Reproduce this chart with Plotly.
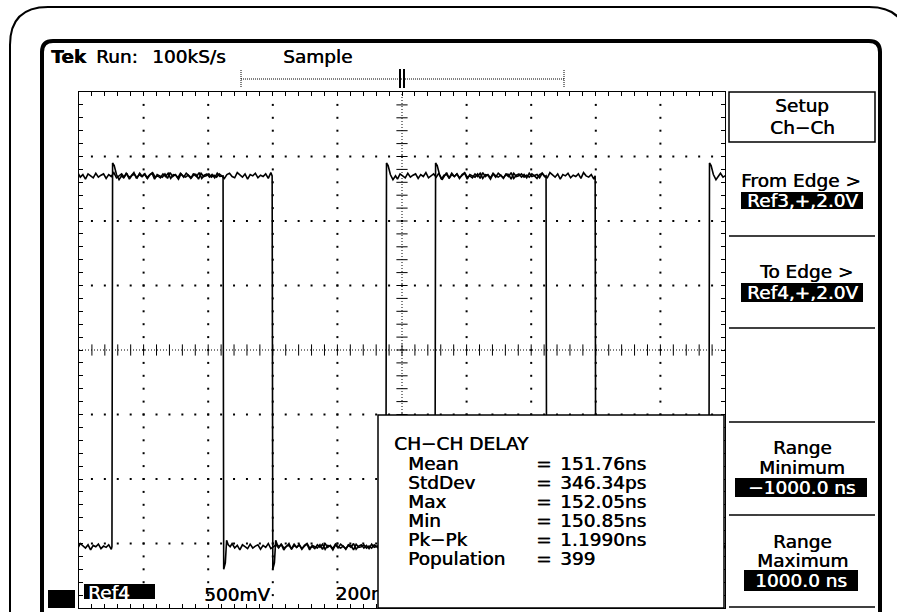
import numpy as np
import plotly.graph_objects as go

W, H = 897, 612
FONT = "DejaVu Sans"
FS = 18.5

x_range_ns = [-1000, 1000]          # 200 ns/div, 10 div
y_range_div = [-4, 4]               # 8 div
high_div = 2.70
low_div = -3.05

ref3_start = "high"
ref3_events_ns = [(-554, "fall"), (-50, "rise"), (446, "fall"), (950, "rise")]
ref4_start = "low"
ref4_events_ns = [(-898, "rise"), (-402, "fall"), (102, "rise"), (598, "fall")]

# plateau noise (div)
ref3_noise = [0.02, -0.03, 0.04, -0.01, 0.03, -0.04, 0.01, 0.05, -0.02, 0.02, -0.05, 0.03,
              0.0, -0.03, 0.04, -0.02, 0.01, 0.03, -0.04, 0.02, -0.01, 0.05, -0.03, 0.0,
              0.03, -0.02, 0.04, -0.05, 0.01, 0.02, -0.03, 0.04, -0.01, 0.03, -0.04, 0.02,
              0.05, -0.02, 0.0, -0.03, 0.03, -0.01, 0.04, -0.04, 0.02, 0.01, -0.05, 0.03,
              -0.02, 0.04, 0.0, -0.03, 0.02, -0.01, 0.05, -0.04, 0.01, 0.03, -0.02, 0.02,
              -0.03, 0.04, -0.01, 0.0]
ref4_noise = [-0.02, 0.03, 0.0, -0.04, 0.02, 0.04, -0.01, -0.03, 0.05, 0.01, -0.02, 0.03,
              -0.05, 0.02, 0.0, 0.04, -0.03, 0.01, -0.01, 0.03, -0.04, 0.05, 0.0, -0.02,
              0.02, -0.05, 0.03, 0.01, -0.03, 0.04, -0.02, 0.0, 0.05, -0.04, 0.02, -0.01,
              0.03, -0.03, 0.01, 0.04, -0.05, 0.02, 0.0, -0.02, 0.03, -0.04, 0.05, -0.01,
              0.02, -0.03, 0.04, 0.0, -0.02, 0.01, -0.04, 0.03, 0.02, -0.05, 0.04, -0.01,
              0.0, 0.03, -0.02, 0.01]
# edge shapes (time offset ns, level div)
rise_profile = [(0, -3.05), (2, 2.90), (7, 2.86), (14, 2.72), (22, 2.64), (30, 2.70)]
fall_profile = [(0, 2.70), (2, -3.40), (7, -3.30), (11, -2.95), (16, -3.02), (22, -3.05)]

meas_title = "CH\u2212CH DELAY"
meas_labels = ["Mean", "StdDev", "Max", "Min", "Pk\u2212Pk", "Population"]
meas_values = ["151.76ns", "346.34ps", "152.05ns", "150.85ns", "1.1990ns", "399"]

# ---------------- helpers ----------------
def X(px):
    return px / W

def Y(py):
    return 1 - py / H

def build(start, events, noise):
    ts, vs = [], []
    t = x_range_ns[0] - 60
    state = start
    k = 0
    for (te, kind) in events + [(x_range_ns[1] + 60, "end")]:
        level = high_div if state == "high" else low_div
        for tt in np.arange(t, te, 8.0):
            ts.append(float(tt))
            vs.append(level + noise[k % len(noise)])
            k += 1
        if kind == "end":
            break
        prof = rise_profile if kind == "rise" else fall_profile
        for dt, v in prof:
            ts.append(te + dt)
            vs.append(v)
        t = te + prof[-1][0] + 6
        state = "high" if kind == "rise" else "low"
        k += 7
    return ts, vs

fig = go.Figure()

# graticule dots
gx, gy = [], []
for xd in range(-800, 1000, 200):
    if xd == 0:
        continue
    for k in range(1, 40):
        gx.append(xd); gy.append(-4 + 0.2 * k)
for yd in [-3, -2, -1, 1, 2, 3]:
    for k in range(1, 50):
        gx.append(-1000 + 40 * k); gy.append(yd)
fig.add_trace(go.Scatter(x=gx, y=gy, mode="markers", hoverinfo="skip",
                         marker=dict(symbol="square", size=2, color="black", line=dict(width=0))))
# center lines
fig.add_trace(go.Scatter(x=[0, 0], y=y_range_div, mode="lines", hoverinfo="skip",
                         line=dict(color="black", width=1, dash="1px,2px")))
fig.add_trace(go.Scatter(x=x_range_ns, y=[0, 0], mode="lines", hoverinfo="skip",
                         line=dict(color="black", width=1, dash="1px,2px")))
fig.add_trace(go.Scatter(x=[0] * 39, y=[-4 + 0.2 * k for k in range(1, 40)], mode="markers",
                         hoverinfo="skip",
                         marker=dict(symbol="line-ew", size=8, line=dict(width=1, color="black"))))
fig.add_trace(go.Scatter(x=[-1000 + 40 * k for k in range(1, 50)], y=[0] * 49, mode="markers",
                         hoverinfo="skip",
                         marker=dict(symbol="line-ns", size=8, line=dict(width=1, color="black"))))

# waveforms
t3, v3 = build(ref3_start, ref3_events_ns, ref3_noise)
t4, v4 = build(ref4_start, ref4_events_ns, ref4_noise)
fig.add_trace(go.Scatter(x=t3, y=v3, mode="lines", name="Ref3",
                         line=dict(color="black", width=1.6)))
fig.add_trace(go.Scatter(x=t4, y=v4, mode="lines", name="Ref4",
                         line=dict(color="black", width=1.6)))
# scale label partially hidden by readout box
fig.add_trace(go.Scatter(x=[-206], y=[-3.8], mode="text", text=["200ns"],
                         textposition="middle right", hoverinfo="skip",
                         textfont=dict(family=FONT, size=FS, color="black",
                                       shadow="0.5px 0 0 black")))

shapes = []
anns = []

def line(x0, y0, x1, y1, w=1.5, dash="solid", color="black"):
    shapes.append(dict(type="line", xref="paper", yref="paper", x0=X(x0), y0=Y(y0),
                       x1=X(x1), y1=Y(y1), line=dict(color=color, width=w, dash=dash),
                       layer="above"))

def rect(x0, y0, x1, y1, fill=None, w=1.5, color="black"):
    shapes.append(dict(type="rect", xref="paper", yref="paper", x0=X(x0), y0=Y(y0),
                       x1=X(x1), y1=Y(y1), fillcolor=fill if fill else "rgba(0,0,0,0)",
                       line=dict(color=color, width=w), layer="above"))

def text(s, x, y, anchor="left", color="black", size=FS):
    anns.append(dict(text=s, xref="paper", yref="paper", x=X(x), y=Y(y), xanchor=anchor,
                     yanchor="middle", showarrow=False,
                     font=dict(family=FONT, size=size, color=color,
                               shadow=f"0.5px 0 0 {color}")))

def rpath(x0, y0, x1, y1, r, w):
    p = (f"M{X(x0)},{Y(y1)} L{X(x0)},{Y(y0 + r)} Q{X(x0)},{Y(y0)} {X(x0 + r)},{Y(y0)} "
         f"L{X(x1 - r)},{Y(y0)} Q{X(x1)},{Y(y0)} {X(x1)},{Y(y0 + r)} L{X(x1)},{Y(y1)}")
    shapes.append(dict(type="path", xref="paper", yref="paper", path=p,
                       line=dict(color="black", width=w), layer="above"))

# outer bezel and screen border
rpath(10, 7, 907, 660, 38, 2)
rpath(42, 41, 880, 660, 11, 4)

# header
text("<b>Tek</b>", 49, 56)
text("Run:", 94, 56)
text("100kS/s", 150, 56)
text("Sample", 281, 56)
line(241, 79, 564, 79, w=1, dash="1px,1px")
line(241, 70, 241, 88, w=1, dash="1px,1px")
line(564, 70, 564, 88, w=1, dash="1px,1px")
line(400, 69, 400, 88, w=2)
line(404, 69, 404, 88, w=2)

# right menu
rect(729, 92, 875, 142, w=1.5)
text("Setup", 802, 105.5, "center")
text("Ch\u2212Ch", 802, 127, "center")
text("From Edge >", 801, 180, "center")
rect(741, 192, 863, 209, fill="black", w=0)
text("Ref3,+,2.0V", 802, 200.5, "center", color="white")
line(729, 236, 875, 236)
text("To Edge >", 806, 271, "center")
rect(741, 283, 863, 302, fill="black", w=0)
text("Ref4,+,2.0V", 802, 292.5, "center", color="white")
line(729, 328, 875, 328)
line(729, 422, 875, 422)
text("Range", 802, 448, "center")
text("Minimum", 802, 467, "center")
rect(735, 478, 867, 497, fill="black", w=0)
text("\u22121000.0 ns", 801, 487.5, "center", color="white")
line(729, 515, 875, 515)
text("Range", 802, 541, "center")
text("Maximum", 802, 560, "center")
rect(744, 570, 858, 591, fill="black", w=0)
text("1000.0 ns", 801, 580.5, "center", color="white")
line(729, 607, 875, 607)

# bottom status
rect(48, 590, 75, 608, fill="black", w=0)
rect(84, 584, 155, 599, fill="black", w=0)
text("Ref4", 86, 592, color="white")
text("500mV", 202, 594)

# readout box
rect(378, 415, 724, 608, fill="white", w=1.5)
text(meas_title, 392, 443)
rows_y = [463, 482, 501, 520, 539.5, 558.5]
for lab, val, yy in zip(meas_labels, meas_values, rows_y):
    text(lab, 406, yy)
    text("=", 534, yy)
    text(val, 558, yy)

fig.update_layout(
    width=W, height=H, margin=dict(l=0, r=0, t=0, b=0),
    paper_bgcolor="white", plot_bgcolor="white", showlegend=False,
    shapes=shapes, annotations=anns,
    xaxis=dict(domain=[X(79), X(725)], range=x_range_ns, showgrid=False, zeroline=False,
               showticklabels=False, ticks="inside", ticklen=4, tickwidth=1, tickcolor="black",
               tick0=0, dtick=40, showline=True, linecolor="black", linewidth=1, mirror="ticks",
               fixedrange=True),
    yaxis=dict(domain=[Y(608), Y(92)], range=y_range_div, showgrid=False, zeroline=False,
               showticklabels=False, ticks="inside", ticklen=4, tickwidth=1, tickcolor="black",
               tick0=0, dtick=0.2, showline=True, linecolor="black", linewidth=1, mirror="ticks",
               fixedrange=True),
)

fig.write_html("out.html", config={"displayModeBar": False},
               post_script="document.body.style.margin='0';document.body.style.overflow='hidden';")
